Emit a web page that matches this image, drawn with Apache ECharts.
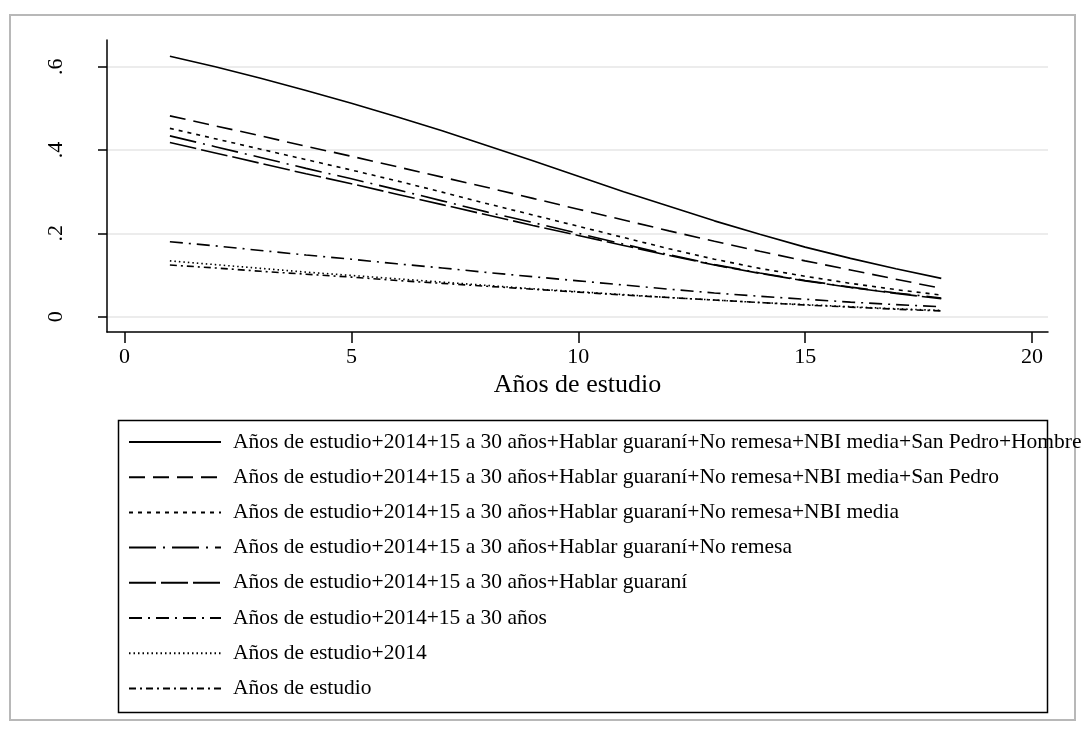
<!DOCTYPE html>
<html>
<head>
<meta charset="utf-8">
<script src="https://cdn.jsdelivr.net/npm/echarts@6/dist/echarts.min.js"></script>
<style>
  html, body { margin: 0; padding: 0; background: #fff; }
  #chart { width: 1085px; height: 735px; }
</style>
</head>
<body>
<div id="chart"></div>
<script>
// Predicted probability by years of schooling, one curve per model specification
const years = [1, 2, 3, 4, 5, 6, 7, 8, 9, 10, 11, 12, 13, 14, 15, 16, 17, 18];

const seriesNames = [
  'Años de estudio+2014+15 a 30 años+Hablar guaraní+No remesa+NBI media+San Pedro+Hombre',
  'Años de estudio+2014+15 a 30 años+Hablar guaraní+No remesa+NBI media+San Pedro',
  'Años de estudio+2014+15 a 30 años+Hablar guaraní+No remesa+NBI media',
  'Años de estudio+2014+15 a 30 años+Hablar guaraní+No remesa',
  'Años de estudio+2014+15 a 30 años+Hablar guaraní',
  'Años de estudio+2014+15 a 30 años',
  'Años de estudio+2014',
  'Años de estudio'
];

const mHombre    = [0.625, 0.600, 0.572, 0.543, 0.512, 0.480, 0.446, 0.410, 0.374, 0.337, 0.300, 0.265, 0.230, 0.198, 0.167, 0.140, 0.115, 0.092];
const mSanPedro  = [0.482, 0.458, 0.434, 0.409, 0.385, 0.360, 0.335, 0.310, 0.284, 0.258, 0.232, 0.206, 0.181, 0.157, 0.134, 0.112, 0.090, 0.068];
const mNbi       = [0.452, 0.427, 0.402, 0.377, 0.352, 0.326, 0.299, 0.271, 0.244, 0.217, 0.190, 0.163, 0.138, 0.116, 0.097, 0.080, 0.065, 0.052];
const mRemesa    = [0.434, 0.408, 0.382, 0.356, 0.331, 0.305, 0.278, 0.251, 0.226, 0.200, 0.174, 0.149, 0.125, 0.105, 0.087, 0.071, 0.057, 0.045];
const mGuarani   = [0.418, 0.393, 0.368, 0.343, 0.319, 0.294, 0.269, 0.244, 0.219, 0.195, 0.171, 0.147, 0.124, 0.104, 0.086, 0.070, 0.056, 0.043];
const mEdad      = [0.180, 0.170, 0.159, 0.148, 0.138, 0.127, 0.117, 0.106, 0.096, 0.086, 0.076, 0.066, 0.057, 0.049, 0.042, 0.035, 0.029, 0.024];
const m2014      = [0.134, 0.125, 0.116, 0.107, 0.099, 0.091, 0.083, 0.075, 0.067, 0.060, 0.053, 0.046, 0.040, 0.034, 0.029, 0.024, 0.019, 0.015];
const mEstudio   = [0.124, 0.117, 0.109, 0.102, 0.095, 0.087, 0.080, 0.073, 0.066, 0.059, 0.052, 0.046, 0.040, 0.034, 0.028, 0.023, 0.018, 0.014];

const seriesValues = [mHombre, mSanPedro, mNbi, mRemesa, mGuarani, mEdad, m2014, mEstudio];

const xTicks = [0, 5, 10, 15, 20];
const yTicks = [0, 0.2, 0.4, 0.6];
const yTickLabels = ['0', '.2', '.4', '.6'];

// Stata-like line patterns: solid, dash, shortdash, longdash_dot, longdash, dash_dot, dot, shortdash_dot
const dashPatterns = [
  'solid',
  [16, 8],
  [4, 5],
  [27, 7, 2, 7],
  [27, 5],
  [13, 6, 2, 6],
  [1.5, 3],
  [7, 4, 2, 4]
];

const FONT = '"Liberation Serif", "Times New Roman", serif';

const chart = echarts.init(document.getElementById('chart'), null, { renderer: 'canvas' });

const series = seriesNames.map((name, i) => ({
  name: name,
  type: 'line',
  data: years.map((x, j) => [x, seriesValues[i][j]]),
  showSymbol: false,
  symbol: 'none',
  smooth: false,
  silent: true,
  animation: false,
  lineStyle: { color: '#000', width: 1.6, type: dashPatterns[i] },
  itemStyle: { color: '#000' }
}));

chart.setOption({
  backgroundColor: '#fff',
  animation: false,
  grid: { left: 107, top: 40, right: 37, bottom: 403, containLabel: false },
  xAxis: {
    type: 'value',
    min: -0.386,
    max: 20.352,
    name: 'Años de estudio',
    nameLocation: 'middle',
    nameGap: 40,
    nameTextStyle: { fontFamily: FONT, fontSize: 26, color: '#000' },
    axisLine: { onZero: false, lineStyle: { color: '#000', width: 1.5 } },
    axisTick: { show: true, inside: false, length: 11, customValues: xTicks, lineStyle: { color: '#000', width: 1.5 } },
    axisLabel: { customValues: xTicks, margin: 14, fontFamily: FONT, fontSize: 22, color: '#000' },
    splitLine: { show: false }
  },
  yAxis: {
    type: 'value',
    min: -0.0367,
    max: 0.664,
    axisLine: { show: true, onZero: false, lineStyle: { color: '#000', width: 1.5 } },
    axisTick: { show: true, inside: false, length: 9, customValues: yTicks, lineStyle: { color: '#000', width: 1.5 } },
    axisLabel: {
      customValues: yTicks,
      rotate: 90,
      margin: 40,
      fontFamily: FONT,
      fontSize: 22,
      color: '#000',
      formatter: v => yTickLabels[yTicks.findIndex(t => Math.abs(t - v) < 1e-6)] ?? ''
    },
    splitLine: { show: true, lineStyle: { color: '#e6e6e6', width: 1.5 } }
  },
  legend: {
    show: true,
    orient: 'vertical',
    left: 128,
    top: 431,
    padding: 0,
    itemWidth: 92,
    itemHeight: 14,
    itemGap: 13.2,
    selectedMode: false,
    itemStyle: { opacity: 0 },
    textStyle: { fontFamily: FONT, fontSize: 21.5, color: '#000', padding: [0, 0, 0, 7] },
    data: seriesNames
  },
  graphic: [
    {
      type: 'rect',
      silent: true,
      shape: { x: 10, y: 15, width: 1065, height: 705 },
      style: { fill: null, stroke: '#b8b8b8', lineWidth: 2 },
      z: -1
    },
    {
      type: 'rect',
      silent: true,
      shape: { x: 118.5, y: 420.5, width: 929, height: 292 },
      style: { fill: null, stroke: '#000', lineWidth: 1.5 }
    }
  ],
  series: series
});
</script>
</body>
</html>
